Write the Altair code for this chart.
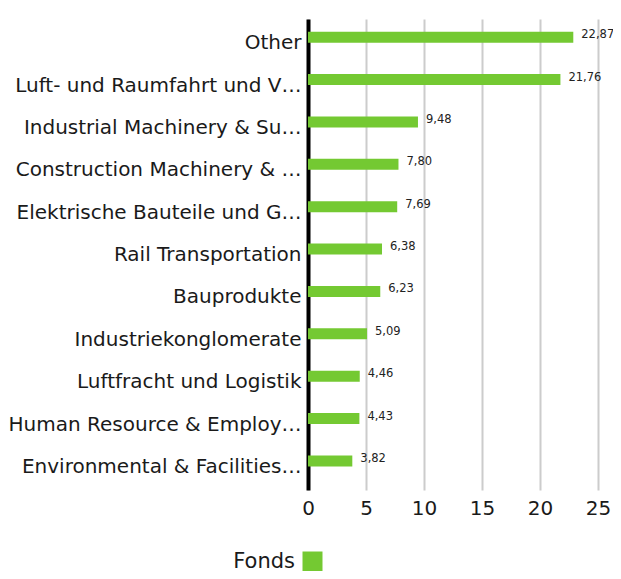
import altair as alt
import pandas as pd

categories = [
    "Other",
    "Luft- und Raumfahrt und V…",
    "Industrial Machinery & Su…",
    "Construction Machinery & …",
    "Elektrische Bauteile und G…",
    "Rail Transportation",
    "Bauprodukte",
    "Industriekonglomerate",
    "Luftfracht und Logistik",
    "Human Resource & Employ…",
    "Environmental & Facilities…",
]
values = [22.87, 21.76, 9.48, 7.80, 7.69, 6.38, 6.23, 5.09, 4.46, 4.43, 3.82]
series = "Fonds"
x_ticks = [0, 5, 10, 15, 20, 25]

df = pd.DataFrame({"category": categories, "value": values})
df["label"] = [f"{v:.2f}".replace(".", ",") for v in values]
df["series"] = series

FONT = "DejaVu Sans"
GREEN = "#74c932"

y_enc = alt.Y(
    "category:N",
    sort=categories,
    title=None,
    scale=alt.Scale(paddingInner=0.74, paddingOuter=0.428, align=0.35),
    axis=alt.Axis(
        ticks=False,
        domain=True,
        domainColor="#000000",
        domainWidth=4,
        labelFontSize=20,
        labelFont=FONT,
        labelColor="#1a1a1a",
        labelPadding=7,
        labelOffset=6,
        labelLimit=400,
        grid=False,
    ),
)

x_enc = alt.X(
    "value:Q",
    title=None,
    scale=alt.Scale(domain=[0, 25], nice=False),
    axis=alt.Axis(
        values=x_ticks,
        ticks=False,
        domain=False,
        grid=True,
        gridColor="#cccccc",
        gridWidth=2,
        labelFontSize=20,
        labelFont=FONT,
        labelColor="#1a1a1a",
        labelPadding=8,
        labelFlush=False,
    ),
)

bars = alt.Chart(df).mark_bar(color=GREEN).encode(
    y=y_enc,
    x=x_enc,
    color=alt.Color(
        "series:N",
        scale=alt.Scale(range=[GREEN]),
        legend=alt.Legend(
            title=None,
            orient="none",
            legendX=-6,
            legendY=532,
            symbolType="square",
            symbolSize=400,
            symbolStrokeWidth=0,
            labelFontSize=21,
            labelFont=FONT,
            labelColor="#1a1a1a",
            labelAlign="right",
            labelOffset=alt.ExprRef(expr="-28"),
            padding=0,
        ),
    ),
)

text = alt.Chart(df).mark_text(
    align="left", baseline="middle", dx=8, dy=-2, fontSize=11.5, font=FONT, color="#222222"
).encode(
    y=alt.Y("category:N", sort=categories),
    x=alt.X("value:Q"),
    text="label:N",
)

chart = (
    alt.layer(bars, text)
    .properties(
        width=290,
        height=471,
        autosize=alt.AutoSizeParams(type="none"),
        padding={"left": 300, "top": 11, "right": 15, "bottom": 81},
    )
    .configure_view(stroke=None)
)

chart.save("out.html", embed_options={"renderer": "svg", "actions": False})
